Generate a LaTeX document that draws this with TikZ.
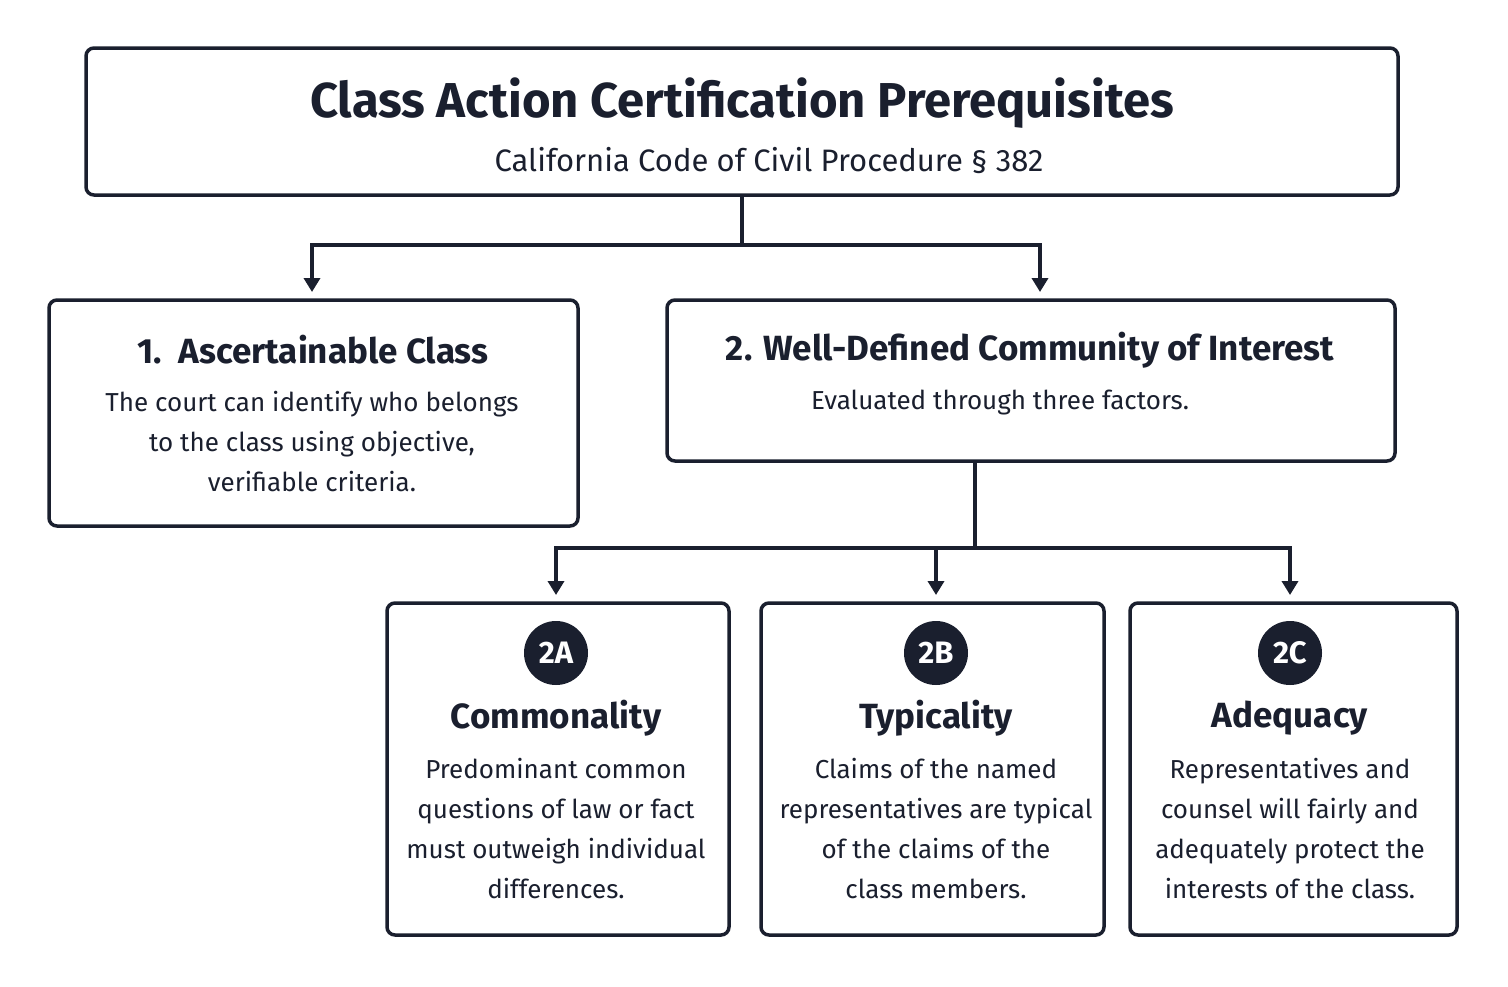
\documentclass[tikz,border=0pt]{standalone}
\usepackage{fontspec}
\setmainfont{Fira Sans}
\usetikzlibrary{arrows.meta}
\definecolor{ink}{HTML}{1A1F2E}
\begin{document}
\begin{tikzpicture}[x=1pt,y=-1pt,
  box/.style={draw=ink,line width=3.5pt,rounded corners=8pt,fill=white},
  conn/.style={draw=ink,line width=3.5pt},
  arr/.style={conn,-{Triangle[length=14pt,width=16pt]}},
  badge/.style={circle,fill=ink,minimum size=64pt,inner sep=0pt,text=white,font=\fontsize{31}{34}\selectfont\bfseries},
  ttl/.style={text=ink,font=\fontsize{35}{40}\selectfont\bfseries},
  txt/.style={text=ink,align=center,font=\fontsize{26}{40}\selectfont}]
\useasboundingbox[fill=white] (0,0) rectangle (1508,986);
% boxes
\draw[box] (86,48) rectangle (1398,195);
\node[text=ink,font=\fontsize{49}{54}\selectfont\bfseries] (t) at (742,103) {Class Action Certification Prerequisites};
\node[text=ink,font=\fontsize{31}{36}\selectfont] (st) at (769,161) {California Code of Civil Procedure § 382};
\coordinate (top) at (742,195);
\draw[box] (49,300) rectangle (578,526);
\coordinate (b1) at (312,292);
\node[ttl] (b1t) at (313,350) {1.\ \ Ascertainable Class};
\node[txt] (b1x) at (312,442) {The court can identify who belongs\\to the class using objective,\\verifiable criteria.};
\draw[box] (667,300) rectangle (1395,461);
\coordinate (b2) at (1040,292);
\coordinate (b2b) at (975,461);
\node[ttl] (b2t) at (1030,350) {2. Well-Defined Community of Interest};
\node[txt] (b2x) at (1000,403) {Evaluated through three factors.};
% bottom boxes
\foreach \n/\xa/\xb/\cx/\lab/\ti/\body in {
 a/387/729/556/2A/Commonality/{Predominant common\\questions of law or fact\\must outweigh individual\\differences.},
 b/761/1104/936/2B/Typicality/{Claims of the named\\representatives are typical\\of the claims of the\\class members.},
 c/1130/1457/1290/2C/Adequacy/{Representatives and\\counsel will fairly and\\adequately protect the\\interests of the class.}}{
 \draw[box] (\xa,603) rectangle (\xb,935);
 \coordinate (in\n) at (\cx,595);
 \node[badge] (bd\n) at (\cx,653) {\lab};
 \node[ttl] (tt\n) at (\cx,718) {\ti};
 \node[txt] (bx\n) at (\cx,829) {\body};
}
% connectors
\coordinate (j1) at (742,245);
\draw[conn] (top) -- (j1);
\draw[arr] (j1) -| (b1);
\draw[arr] (j1) -| (b2);
\coordinate (j2) at (975,548);
\draw[conn] (b2b) -- (j2);
\draw[arr] (j2) -| (ina);
\draw[arr] (j2) -| (inb);
\draw[arr] (j2) -| (inc);
\end{tikzpicture}
\end{document}
